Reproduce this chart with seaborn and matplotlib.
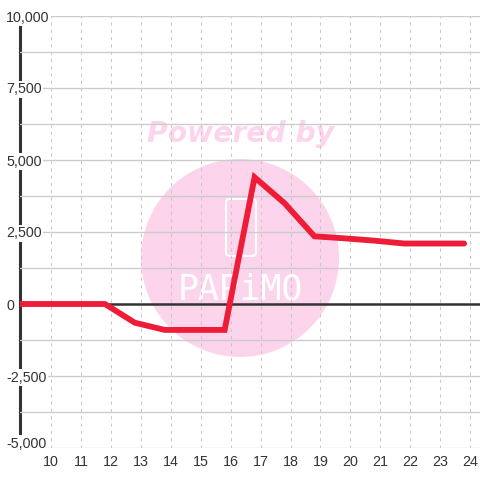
import matplotlib
matplotlib.use("Agg")
import matplotlib.pyplot as plt
import matplotlib.transforms as mtransforms
import seaborn as sns
import pandas as pd
from matplotlib.patches import Circle, FancyBboxPatch

# === Data ===
hours = [8.8, 9.8, 10.8, 11.8, 12.8, 13.8, 14.8, 15.8, 16.8, 17.8, 18.8, 19.8, 20.8, 21.8, 22.8, 23.8]
values = [0, 0, 0, 0, -650, -900, -900, -900, 4400, 3500, 2350, 2280, 2200, 2100, 2100, 2100]
x_ticks = list(range(10, 25))
y_ticks = list(range(-5000, 10001, 2500))
y_labels = [f"{v:,}" for v in y_ticks]

df = pd.DataFrame({"hour": hours, "value": values})

sns.set_theme(style="white")
plt.rcParams['font.family'] = ['Liberation Sans', 'DejaVu Sans']

fig = plt.figure(figsize=(4.8, 4.8), dpi=100)
ax = fig.add_axes([20 / 480, 32 / 480, 460 / 480, 432 / 480])
ax.set_axisbelow(True)

# watermark behind everything
pink = "#fcd5ec"
ax.add_patch(Circle((0.5, 1 - 258 / 480), 99 / 480, transform=fig.transFigure,
                    facecolor=pink, edgecolor="none", zorder=0.1))
ax.text(0.502, 1 - 134 / 480, "Powered by", transform=fig.transFigure, ha="center", va="center",
        fontsize=20.3, fontweight="bold", fontstyle="oblique", family="DejaVu Sans",
        color=pink, zorder=0.2)
ax.add_patch(FancyBboxPatch((226 / 480, 1 - 256 / 480), 30 / 480, 57 / 480,
                            boxstyle="round,pad=0,rounding_size=0.008", transform=fig.transFigure,
                            facecolor="none", edgecolor="white", lw=1.5, zorder=0.2))
ax.text(0.5, 1 - 290 / 480, "PAPiMO", transform=fig.transFigure, ha="center", va="center",
        fontsize=25, family="DejaVu Sans Mono", color="white", zorder=0.2)

# left axis line (covered by label boxes)
ax.axvline(8.964, color="#333333", lw=2.2, zorder=0.4, clip_on=False)

# series
sns.lineplot(data=df, x="hour", y="value", color="#ee1c37", lw=4.2, ax=ax, zorder=2,
             solid_joinstyle="miter")
ax.axhline(0, color="#333333", lw=1.8, zorder=1.5)

ax.set_xlim(8.964, 24.33)
ax.set_ylim(-5000, 10000)
ax.set_xticks(x_ticks)
ax.set_xticklabels([str(t) for t in x_ticks])
ax.set_yticks(y_ticks)
ax.set_yticklabels(y_labels)
ax.set_yticks([v + 1250 for v in y_ticks[:-1]], minor=True)

ax.grid(axis="y", which="both", color="#cccccc", lw=1, linestyle="-")
ax.grid(axis="x", which="major", color="#c8c8c8", lw=0.75, linestyle=(0, (3, 4)))

ax.tick_params(axis="both", which="both", length=0, labelsize=10.3, labelcolor="#333333")
ax.tick_params(axis="x", pad=5)
ax.tick_params(axis="y", pad=10)
for lbl in ax.get_yticklabels():
    lbl.set_horizontalalignment("left")
    lbl.set_bbox(dict(facecolor="white", edgecolor="none", pad=1))

# bottom label sits a little above its gridline
bottom = ax.get_yticklabels()[0]
bottom.set_transform(bottom.get_transform() +
                     mtransforms.ScaledTranslation(0, 0.06, fig.dpi_scale_trans))

for s in ax.spines.values():
    s.set_visible(False)
ax.set_xlabel("")
ax.set_ylabel("")
if ax.get_legend():
    ax.get_legend().remove()

fig.savefig("out.png", dpi=100)
